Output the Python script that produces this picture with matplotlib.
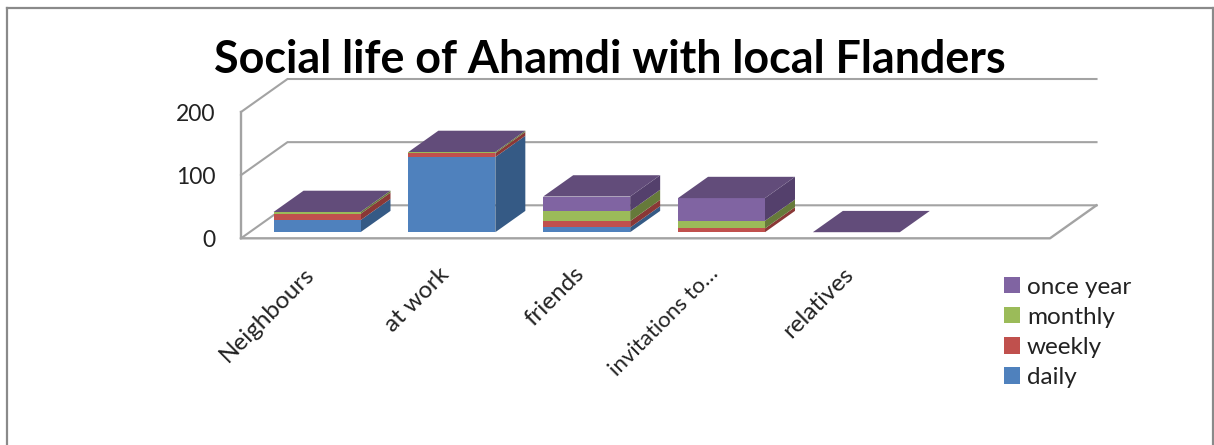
import matplotlib
matplotlib.use("Agg")
import matplotlib.pyplot as plt
from matplotlib.lines import Line2D
from matplotlib.patches import Polygon
from matplotlib.transforms import ScaledTranslation
import numpy as np

categories = ["Neighbours", "at work", "friends", "invitations to\u2026", "relatives", ""]
daily = [19, 119, 7.5, 0, 0, 0]
weekly = [10, 6, 10, 6, 0, 0]
monthly = [3, 2, 16, 12, 0, 0]
once_year = [0, 0, 23, 36, 0, 0]
y_ticks = [0, 100, 200]

series_names = ["daily", "weekly", "monthly", "once year"]
series_values = [daily, weekly, monthly, once_year]
front_colors = ["#4f81bd", "#c0504d", "#9bbb59", "#8064a2"]
side_colors = ["#355a85", "#8a3836", "#667a3a", "#54406c"]
top_color = "#624c7a"
grid_color = "#a3a3a3"
text_color = "#222222"

W, H = 1214, 445
plt.rcParams["font.family"] = ["Lato", "DejaVu Sans"]
fig = plt.figure(figsize=(W / 100, H / 100), dpi=100)
fig.patch.set_facecolor("white")

L, R, B, T = 241, 1050, 238.3, 112
ax = fig.add_axes([L / W, 1 - B / H, (R - L) / W, (B - T) / H])
n = len(categories)
ax.set_xlim(0, n)
ax.set_ylim(0, 200)
ax.patch.set_visible(False)
for s in ax.spines.values():
    s.set_visible(False)

# Depth of the oblique projection, in data units
DX = 46.5 / ((R - L) / n)
DY = 33 / ((B - T) / 200)
bar_w = 0.645
d_front, d_back = 0.185, 0.83


def proj(x, y, d):
    return (x + d * DX, y + d * DY)


# Walls and floor
for v in y_ticks:
    x0, y0 = proj(0, v, 0)
    x1, y1 = proj(0, v, 1)
    x2, y2 = proj(n, v, 1)
    ax.plot([x0, x1, x2], [y0, y1, y2], color=grid_color, lw=1.5, clip_on=False,
            zorder=1, solid_joinstyle="miter")
fx, fy = zip(proj(0, 0, 0), proj(n, 0, 0), proj(n, 0, 1))
ax.plot(fx, fy, color=grid_color, lw=1.7, clip_on=False, zorder=1)
ax.plot([0, 0], [0, 200], color=grid_color, lw=1.7, clip_on=False, zorder=1)

# Bars
centers = np.arange(n) + 0.5
bottom = np.zeros(n)
handles = []
for vals, fc, sc, name in zip(series_values, front_colors, side_colors, series_names):
    vals = np.array(vals, dtype=float)
    xf = centers + d_front * DX
    yb = bottom + d_front * DY
    bars = ax.bar(xf, vals, width=bar_w, bottom=yb, color=fc, linewidth=0,
                  clip_on=False, zorder=4, label=name)
    handles.append(bars)
    for c, b, v in zip(centers, bottom, vals):
        if v > 0:
            xr = c + bar_w / 2
            pts = [proj(xr, b, d_front), proj(xr, b, d_back),
                   proj(xr, b + v, d_back), proj(xr, b + v, d_front)]
            ax.add_patch(Polygon(pts, closed=True, facecolor=sc, edgecolor="none",
                                 clip_on=False, zorder=3))
    bottom = bottom + vals

for c, tot, label in zip(centers, bottom, categories):
    if label:
        xl, xr = c - bar_w / 2, c + bar_w / 2
        pts = [proj(xl, tot, d_front), proj(xr, tot, d_front),
               proj(xr, tot, d_back), proj(xl, tot, d_back)]
        ax.add_patch(Polygon(pts, closed=True, facecolor=top_color, edgecolor="none",
                             clip_on=False, zorder=5))

# Axis labels
ax.set_yticks(y_ticks)
ax.set_yticklabels([str(v) for v in y_ticks], fontsize=16.5, color=text_color)
ax.tick_params(axis="y", length=0, pad=18.5)
ax.set_xticks(centers)
ax.set_xticklabels(categories, fontsize=17.5, color=text_color, rotation=45,
                   ha="right", rotation_mode="anchor")
ax.tick_params(axis="x", length=0, pad=18)
shift = ScaledTranslation(-5 / 100, 0, fig.dpi_scale_trans)
for t in ax.get_xticklabels():
    t.set_transform(t.get_transform() + shift)
ax.get_xticklabels()[3].set_fontsize(16)

# Title
fig.text(610 / W, 1 - 60 / H, "Social life of Ahamdi with local Flanders", fontsize=32.3,
         fontweight="bold", color="black", ha="center", va="center")

# Legend
leg = fig.legend(handles[::-1], series_names[::-1], loc="upper left",
                 bbox_to_anchor=(1004 / W, 1 - 276.5 / H), frameon=False, fontsize=17.5,
                 handlelength=0.66, handleheight=0.66, handletextpad=0.28,
                 labelspacing=0.38, borderpad=0, borderaxespad=0, labelcolor=text_color)

# Outer frame
frame_color = "#8a8a8a"
for xs, ys in [([7, 7], [445, 8]), ([7, 1213], [8, 8]), ([1213, 1213], [8, 445])]:
    fig.add_artist(Line2D([x / W for x in xs], [1 - y / H for y in ys], color=frame_color,
                          lw=1.6, transform=fig.transFigure))

fig.savefig("out.png", dpi=100, facecolor="white")
